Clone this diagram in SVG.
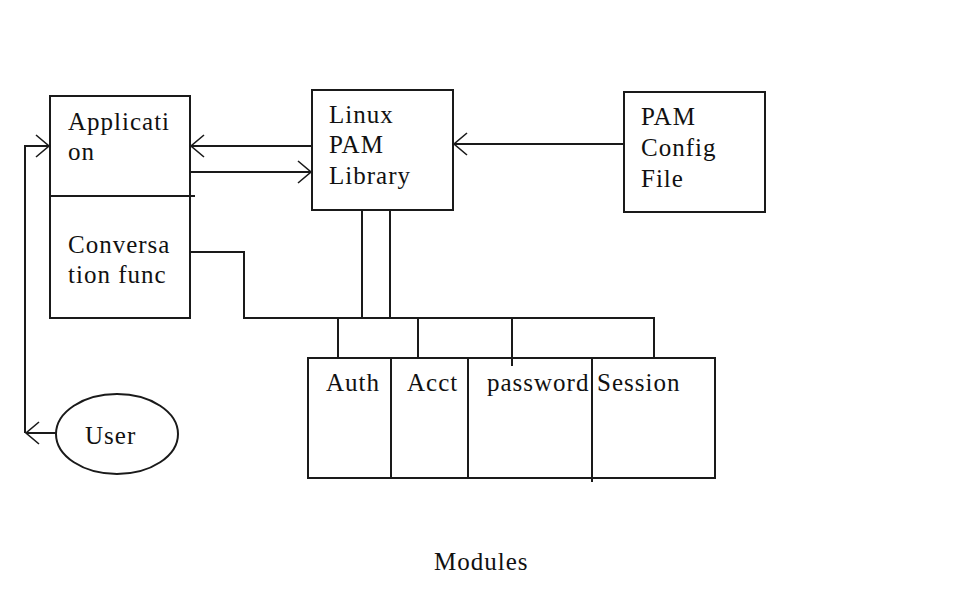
<svg xmlns="http://www.w3.org/2000/svg" width="965" height="611" viewBox="0 0 965 611">
<style>
.box{fill:none;stroke:#1a1a1a;stroke-width:2}
.ln{fill:none;stroke:#1a1a1a;stroke-width:2}
.t{font-family:"Liberation Serif","Times New Roman",serif;font-size:25px;letter-spacing:1px;fill:#111}
</style>
<defs>
<marker id="ah" markerWidth="16" markerHeight="26" refX="14" refY="12" orient="auto" markerUnits="userSpaceOnUse">
<path d="M1,1 L14,12 L1,23" fill="none" stroke="#1a1a1a" stroke-width="1.6"/>
</marker>
</defs>
<rect width="965" height="611" fill="#fff"/>
<g id="application">
<rect class="box" x="50" y="96" width="140" height="222"/>
<line class="ln" x1="50" y1="196" x2="195" y2="196"/>
<text class="t" x="68" y="130">Applicati</text>
<text class="t" x="68" y="160">on</text>
<text class="t" x="68" y="253">Conversa</text>
<text class="t" x="68" y="283">tion func</text>
</g>
<g id="linux-pam">
<rect class="box" x="312" y="90" width="141" height="120"/>
<text class="t" x="329" y="123">Linux</text>
<text class="t" x="329" y="153">PAM</text>
<text class="t" x="329" y="184">Library</text>
</g>
<g id="pam-config">
<rect class="box" x="624" y="92" width="141" height="120"/>
<text class="t" x="641" y="125">PAM</text>
<text class="t" x="641" y="156">Config</text>
<text class="t" x="641" y="187">File</text>
</g>
<g id="modules">
<rect class="box" x="308" y="358" width="407" height="120"/>
<line class="ln" x1="391" y1="358" x2="391" y2="478"/>
<line class="ln" x1="468" y1="358" x2="468" y2="478"/>
<line class="ln" x1="592" y1="358" x2="592" y2="482"/>
<text class="t" x="326" y="391">Auth</text>
<text class="t" x="407" y="391">Acct</text>
<text class="t" x="487" y="391">password</text>
<text class="t" x="597" y="391">Session</text>
<text class="t" x="434" y="570">Modules</text>
</g>
<g id="user">
<ellipse class="box" cx="117" cy="434" rx="61" ry="40"/>
<text class="t" x="85" y="444">User</text>
</g>
<g id="connectors">
<line class="ln" x1="312" y1="146" x2="191" y2="146" marker-end="url(#ah)"/>
<line class="ln" x1="190" y1="172" x2="311" y2="172" marker-end="url(#ah)"/>
<line class="ln" x1="624" y1="144" x2="454" y2="144" marker-end="url(#ah)"/>
<polyline class="ln" points="25,433 25,146 49,146" marker-end="url(#ah)"/>
<line class="ln" x1="56" y1="433" x2="26" y2="433" marker-end="url(#ah)"/>
<polyline class="ln" points="190,252 244,252 244,318 655,318"/>
<line class="ln" x1="362" y1="210" x2="362" y2="318"/>
<line class="ln" x1="390" y1="210" x2="390" y2="318"/>
<line class="ln" x1="338" y1="318" x2="338" y2="358"/>
<line class="ln" x1="418" y1="318" x2="418" y2="358"/>
<line class="ln" x1="512" y1="318" x2="512" y2="366"/>
<line class="ln" x1="654" y1="318" x2="654" y2="358"/>
</g>
</svg>
